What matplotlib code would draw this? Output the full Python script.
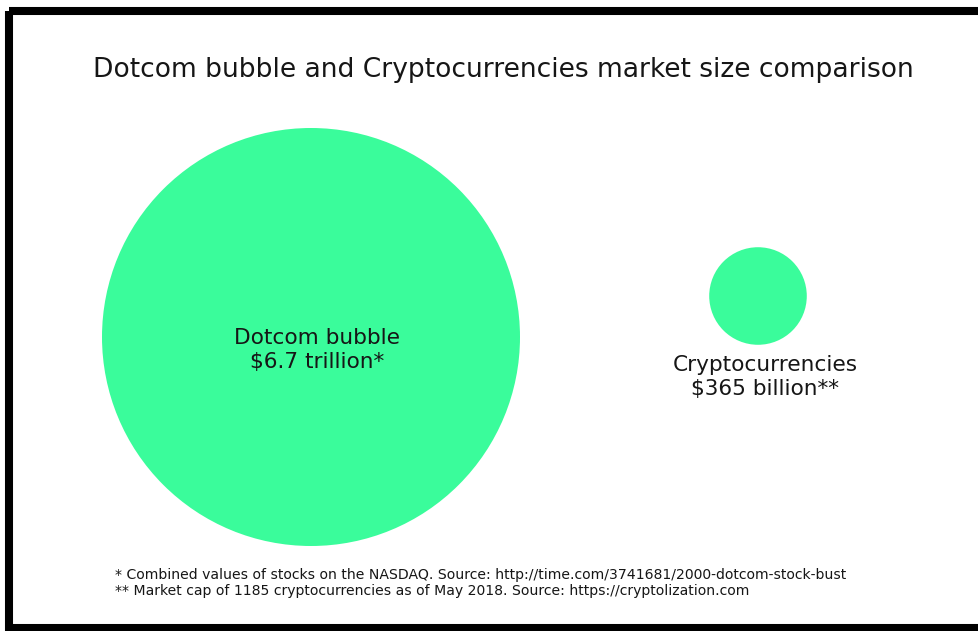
import matplotlib
matplotlib.use("Agg")
import matplotlib.pyplot as plt
from matplotlib.patches import Circle, Rectangle
import numpy as np

# Market sizes in billions of US dollars
markets = ["Dotcom bubble", "Cryptocurrencies"]
values_bn = [6700, 365]
value_labels = ["$6.7 trillion*", "$365 billion**"]

title = "Dotcom bubble and Cryptocurrencies market size comparison"
footnotes = [
    "* Combined values of stocks on the NASDAQ. Source: http://time.com/3741681/2000-dotcom-stock-bust",
    "** Market cap of 1185 cryptocurrencies as of May 2018. Source: https://cryptolization.com",
]

W, H = 979, 631
fig = plt.figure(figsize=(W / 100, H / 100), dpi=100)
ax = fig.add_axes([0, 0, 1, 1])
ax.set_xlim(0, W)
ax.set_ylim(H, 0)
ax.set_aspect("equal")
ax.axis("off")

green = "#3afc9b"
text_color = "#161616"
font = "DejaVu Sans"

# Circle areas proportional to market size; the largest gets radius 209 px
r_max = 209
radii = [r_max * np.sqrt(v / max(values_bn)) for v in values_bn]
centers = [(311, 337), (758, 296)]

for (cx, cy), r in zip(centers, radii):
    ax.add_patch(Circle((cx, cy), r, facecolor=green, edgecolor="none"))

# Labels: inside the big circle, below the small one
ax.text(317, 350, markets[0] + "\n" + value_labels[0],
        ha="center", va="center", fontsize=15.6, color=text_color,
        linespacing=1.3, family=font)
ax.text(765, 377, markets[1] + "\n" + value_labels[1],
        ha="center", va="center", fontsize=15.6, color=text_color,
        linespacing=1.25, family=font)

ax.text(503, 70, title, ha="center", va="center", fontsize=19.1,
        color=text_color, family=font)

ax.text(115, 575, footnotes[0], ha="left", va="center", fontsize=10.1,
        color=text_color, family=font)
ax.text(115, 591, footnotes[1], ha="left", va="center", fontsize=10.1,
        color=text_color, family=font)

# Black frame, open past the right edge
ax.add_patch(Rectangle((9, 11), W + 20, 617, facecolor="none",
                       edgecolor="black", linewidth=5.8))

fig.savefig("out.png", dpi=100)
